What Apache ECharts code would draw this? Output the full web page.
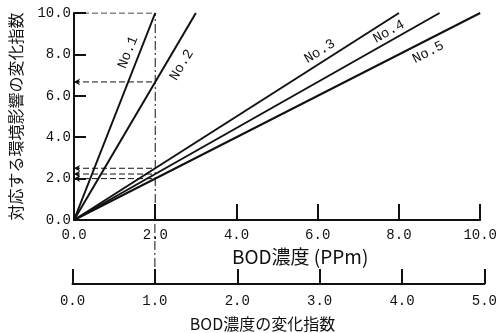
<!DOCTYPE html>
<html><head><meta charset="utf-8">
<script src="https://cdn.jsdelivr.net/npm/echarts@6/dist/echarts.min.js"></script>
<style>html,body{margin:0;padding:0;background:#fff}#c{width:500px;height:333px}</style>
</head><body><div id="c"></div>
<script>
// ---- data ----
const lineNames = ['No.1', 'No.2', 'No.3', 'No.4', 'No.5'];
const lineEndX = [2, 3, 8, 9, 10];      // BOD concentration where each line reaches the top
const lineEndY = [10, 10, 10, 10, 10];
const refX = 2;                          // BOD 2.0 ppm reference
const refY = [10, 6.67, 2.5, 2.22, 2.0]; // values of each line at x = 2.0
const xTicks1 = [0, 2, 4, 6, 8, 10];
const xTicks2 = [0, 1, 2, 3, 4, 5];
const yTicks = [0, 2, 4, 6, 8, 10];
const xName1 = 'BOD濃度 (PPm)';
const xName2 = 'BOD濃度の変化指数';
const yName = '対応する環境影響の変化指数';

// ---- label layout (annotation placement, data coords) ----
const labelPos = [[1.33, 8.1], [2.65, 7.49], [6.05, 8.15], [7.75, 9.1], [8.72, 8.1]];
const labelRot = [68, 59, 32, 29, 27];

const mono = 'Liberation Mono';
const cjk = 'Noto Sans CJK JP';
const black = '#111';

const series = [];
lineNames.forEach((n, i) => {
  series.push({
    type: 'line', name: n, xAxisIndex: 0, yAxisIndex: 0,
    data: [[0, 0], [lineEndX[i], lineEndY[i]]],
    symbol: 'none', lineStyle: {color: black, width: 2}, z: 5,
    markPoint: {
      symbol: 'circle', symbolSize: 1, itemStyle: {color: 'rgba(0,0,0,0)'},
      data: [{coord: labelPos[i], value: n}],
      label: {show: true, position: 'inside', formatter: n, rotate: labelRot[i],
        color: black, fontFamily: mono, fontSize: 14}
    }
  });
});
refY.forEach((v, i) => {
  series.push({
    type: 'line', xAxisIndex: 0, yAxisIndex: 0,
    data: [{value: [0, v], symbol: i === 0 ? 'none' : 'arrow', symbolSize: [5, 6], symbolRotate: 90}, {value: [refX, v], symbol: 'none'}],
    showSymbol: true, itemStyle: {color: black},
    lineStyle: {color: black, width: 1, type: [6, 3]}, z: 3, silent: true
  });
});
series.push({
  type: 'line', xAxisIndex: 0, yAxisIndex: 0,
  data: [[refX, 0], [refX, yTicks[yTicks.length - 1]]],
  symbol: 'none', lineStyle: {color: black, width: 1, type: [9, 3, 2, 3]}, z: 3
});
series.push({
  type: 'line', xAxisIndex: 1, yAxisIndex: 1,
  data: [[refX / 2, 0], [refX / 2, 1]],
  symbol: 'none', lineStyle: {color: black, width: 1, type: [9, 3, 2, 3]}, z: 3
});

const axisLbl = {color: black, fontFamily: mono, fontSize: 14, formatter: v => v.toFixed(1)};

const option = {
  animation: false,
  backgroundColor: '#fff',
  grid: [
    {left: 72.5, right: 15, top: 13, bottom: 113},
    {left: 72.5, right: 15, top: 220, height: 65}
  ],
  xAxis: [
    {type: 'value', gridIndex: 0, min: xTicks1[0], max: xTicks1[xTicks1.length - 1], interval: 2,
      axisLine: {lineStyle: {color: black, width: 2}},
      axisTick: {inside: true, length: 16, lineStyle: {color: black, width: 2}},
      axisLabel: Object.assign({margin: 8}, axisLbl),
      splitLine: {show: false},
      name: xName1, nameLocation: 'middle', nameGap: 22,
      nameTextStyle: {color: black, fontFamily: cjk, fontSize: 19, padding: [0, 0, 0, 46]}},
    {type: 'value', gridIndex: 1, min: xTicks2[0], max: xTicks2[xTicks2.length - 1], interval: 1,
      axisLine: {lineStyle: {color: black, width: 2}},
      axisTick: {inside: true, length: 15, lineStyle: {color: black, width: 2}},
      axisLabel: Object.assign({margin: 10}, axisLbl),
      splitLine: {show: false},
      name: xName2, nameLocation: 'middle', nameGap: 32,
      nameTextStyle: {color: black, fontFamily: cjk, fontSize: 16, padding: [0, 32, 0, 0]}}
  ],
  yAxis: [
    {type: 'value', gridIndex: 0, min: yTicks[0], max: yTicks[yTicks.length - 1], interval: 2,
      axisLine: {show: true, lineStyle: {color: black, width: 2}},
      axisTick: {show: true, inside: true, length: 12, lineStyle: {color: black, width: 2}},
      axisLabel: Object.assign({margin: 3}, axisLbl),
      splitLine: {show: false},
      name: yName, nameLocation: 'middle', nameGap: 50,
      nameTextStyle: {color: black, fontFamily: cjk, fontSize: 16}},
    {type: 'value', gridIndex: 1, min: 0, max: 1, show: false}
  ],
  series: series
};
echarts.init(document.getElementById('c'), null, {renderer: 'canvas'}).setOption(option);
</script></body></html>
